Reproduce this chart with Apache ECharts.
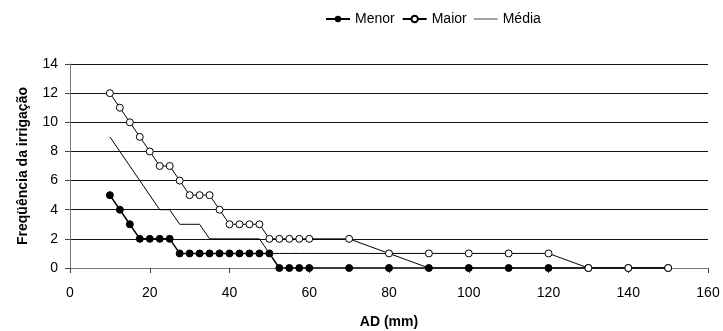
<!DOCTYPE html>
<html><head><meta charset="utf-8">
<script src="https://cdn.jsdelivr.net/npm/echarts@6/dist/echarts.min.js"></script>
<style>html,body{margin:0;padding:0;background:#fff}#c{width:723px;height:331px}</style>
</head><body><div id="c"></div>
<script>
const xValues = [10,12.5,15,17.5,20,22.5,25,27.5,30,32.5,35,37.5,40,42.5,45,47.5,50,52.5,55,57.5,60,70,80,90,100,110,120,130,140,150];
const menor = [5,4,3,2,2,2,2,1,1,1,1,1,1,1,1,1,1,0,0,0,0,0,0,0,0,0,0,0,0,0];
const maior = [12,11,10,9,8,7,7,6,5,5,5,4,3,3,3,3,2,2,2,2,2,2,1,1,1,1,1,0,0,0];
const media = [9,8,7,6,5,4,4,3,3,3,2,2,2,2,2,2,1,1,1,1,1,1,1,0,0,0,0,0,0,0];
const seriesNames = ['Menor','Maior','Média'];
const pair = arr => xValues.map((x,i)=>[x,arr[i]]);
const font = 'Liberation Sans, Arial, sans-serif';
const chart = echarts.init(document.getElementById('c'));
chart.setOption({
  animation:false,
  textStyle:{fontFamily:font},
  legend:{top:7,left:320,itemWidth:24,itemHeight:8,itemGap:7,
    textStyle:{fontSize:14,color:'#000',fontFamily:font},
    data:[{name:seriesNames[0]},{name:seriesNames[1]},{name:seriesNames[2],icon:'path://M0,0H34V1H0Z'}]},
  grid:{left:70,right:15,top:64,bottom:63,containLabel:false,outerBoundsMode:'none'},
  xAxis:{type:'value',min:0,max:160,interval:20,name:'AD (mm)',nameLocation:'middle',nameGap:47,
    nameTextStyle:{fontSize:14,fontWeight:'bold',color:'#000',fontFamily:font},
    axisLine:{lineStyle:{color:'#777'}},axisTick:{lineStyle:{color:'#444'},length:5},
    axisLabel:{fontSize:14,color:'#000',margin:18,fontFamily:font},splitLine:{show:false}},
  yAxis:{type:'value',min:0,max:14,interval:2,name:'Freqüência da irrigação',nameLocation:'middle',nameGap:40,
    nameTextStyle:{fontSize:14,fontWeight:'bold',color:'#000',fontFamily:font},
    axisLine:{show:true,lineStyle:{color:'#777'}},axisTick:{show:true,lineStyle:{color:'#444'},length:5},
    axisLabel:{fontSize:14,color:'#000',margin:12,fontFamily:font},
    splitLine:{lineStyle:{color:'#111',width:1}}},
  series:[
    {name:'Média',type:'line',data:pair(media),symbol:'none',lineStyle:{color:'#000',width:1},itemStyle:{color:'#000'},z:2},
    {name:'Menor',type:'line',data:pair(menor),symbol:'circle',symbolSize:7,showAllSymbol:true,
      lineStyle:{color:'#000',width:1.5},itemStyle:{color:'#000',borderColor:'#000'},z:3},
    {name:'Maior',type:'line',data:pair(maior),symbol:'circle',symbolSize:7,showAllSymbol:true,
      lineStyle:{color:'#000',width:1},itemStyle:{color:'#fff',borderColor:'#000',borderWidth:1},z:4}
  ]
});
</script></body></html>
